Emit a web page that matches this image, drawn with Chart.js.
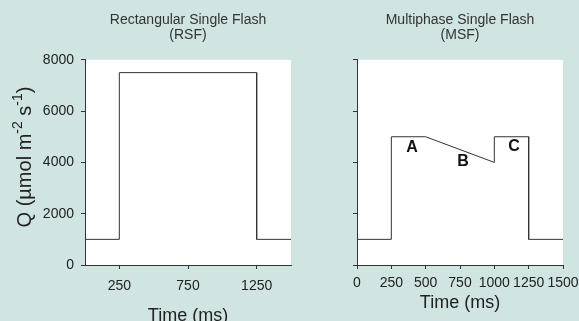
<!DOCTYPE html>
<html lang="en">
<head>
<meta charset="UTF-8">
<title>Single Flash light regimes</title>
<script src="https://cdn.jsdelivr.net/npm/chart.js"></script>
<style>
  html, body { margin: 0; padding: 0; width: 579px; height: 321px; overflow: hidden; background: #d0e5e1; }
  #rsf { position: absolute; left: 0; top: 0; }
  #msf { position: absolute; left: 300px; top: 0; }
</style>
</head>
<body>
<canvas id="rsf" width="300" height="330"></canvas>
<canvas id="msf" width="279" height="321"></canvas>
<script>
// Rectangular single flash: time (ms) and photon flux Q
const rsfTime = [0, 250, 250, 1250, 1250, 1500];
const rsfQ = [1000, 1000, 7500, 7500, 1000, 1000];
// Multiphase single flash
const msfTime = [0, 250, 250, 500, 1000, 1000, 1250, 1250, 1500];
const msfQ = [1000, 1000, 5000, 5000, 4000, 5000, 5000, 1000, 1000];

const rsfTimeTicks = [250, 750, 1250];
const msfTimeTicks = [0, 250, 500, 750, 1000, 1250, 1500];
const qTicks = [0, 2000, 4000, 6000, 8000];

// phase labels inside the MSF panel
const phaseLabels = ['A', 'B', 'C'];
const phaseTime = [400, 772, 1143];
const phaseQ = [4560, 4020, 4610];

// y axis title, pieces flagged true are superscripts
const qTitle = ['Q (µmol m', '-2', ' s', '-1', ')'];
const qTitleSup = [false, true, false, true, false];

const family = '"Liberation Sans", Arial, sans-serif';
const ink = '#333';

const plotBg = {
  id: 'plotBg',
  beforeDraw(chart) {
    const { ctx, chartArea: a } = chart;
    ctx.save();
    ctx.fillStyle = '#fff';
    ctx.fillRect(a.left, a.top, a.right - a.left, a.bottom - a.top);
    ctx.restore();
  }
};

const phaseText = {
  id: 'phaseText',
  afterDatasetsDraw(chart) {
    const { ctx, scales } = chart;
    ctx.save();
    ctx.font = 'bold 16px ' + family;
    ctx.fillStyle = '#111';
    ctx.textAlign = 'center';
    ctx.textBaseline = 'middle';
    phaseLabels.forEach((t, i) => {
      ctx.fillText(t, scales.x.getPixelForValue(phaseTime[i]), scales.y.getPixelForValue(phaseQ[i]));
    });
    ctx.restore();
  }
};

// rotated y title with real superscripts
const qAxisTitle = {
  id: 'qAxisTitle',
  afterDraw(chart) {
    const { ctx } = chart;
    const mainFont = '20px ' + family;
    const supFont = '14px ' + family;
    ctx.save();
    let total = 0;
    qTitle.forEach((t, i) => {
      ctx.font = qTitleSup[i] ? supFont : mainFont;
      total += ctx.measureText(t).width;
    });
    ctx.translate(0, 157);
    ctx.rotate(-Math.PI / 2);
    ctx.fillStyle = '#222';
    ctx.textBaseline = 'alphabetic';
    ctx.textAlign = 'left';
    let x = -total / 2;
    qTitle.forEach((t, i) => {
      ctx.font = qTitleSup[i] ? supFont : mainFont;
      ctx.fillText(t, x, qTitleSup[i] ? 22 : 31);
      x += ctx.measureText(t).width;
    });
    ctx.restore();
  }
};

function points(xs, ys) {
  return xs.map((x, i) => ({ x: x, y: ys[i] }));
}

function makeChart(id, opts) {
  return new Chart(document.getElementById(id), {
    type: 'line',
    data: {
      datasets: [{
        data: points(opts.xs, opts.ys),
        borderColor: ink,
        borderWidth: 1,
        pointRadius: 0,
        tension: 0,
        fill: false
      }]
    },
    options: {
      responsive: false,
      animation: false,
      layout: { padding: { left: 0, right: opts.right, top: 0, bottom: 0 } },
      plugins: {
        legend: { display: false },
        tooltip: { enabled: false },
        title: {
          display: true,
          text: opts.title,
          color: ink,
          fullSize: false,
          font: { family: family, size: 14, weight: 'normal', lineHeight: 1.1 },
          padding: { top: 12, bottom: 17 }
        }
      },
      scales: {
        x: {
          type: 'linear',
          min: 0,
          max: 1500,
          afterBuildTicks: s => { s.ticks = opts.xTicks.map(v => ({ value: v })); },
          afterFit: s => {
            s.height = opts.xHeight;
            s.paddingLeft = 0;
            s.paddingRight = 0;
          },
          grid: { drawOnChartArea: false, tickLength: 4, color: ink },
          border: { color: ink, width: 1 },
          ticks: {
            color: '#222', font: { family: family, size: 14 }, padding: opts.xTickPad,
            autoSkip: false, maxRotation: 0, minRotation: 0,
            callback: v => String(v)
          },
          title: { display: true, text: 'Time (ms)', color: '#222', font: { family: family, size: 18 }, padding: { top: 0, bottom: opts.xTitlePad } }
        },
        y: {
          type: 'linear',
          min: 0,
          max: 8000,
          afterBuildTicks: s => { s.ticks = qTicks.map(v => ({ value: v })); },
          afterFit: s => {
            s.width = opts.yWidth;
            s.paddingTop = 0;
            s.paddingBottom = 0;
          },
          grid: { drawOnChartArea: false, tickLength: 4, color: ink },
          border: { color: ink, width: 1 },
          ticks: { display: opts.yLabels, color: '#222', font: { family: family, size: 14 }, padding: 7, callback: v => String(v) }
        }
      }
    },
    plugins: opts.plugins
  });
}

makeChart('rsf', {
  xs: rsfTime, ys: rsfQ,
  title: ['Rectangular Single Flash', '(RSF)'],
  xTicks: rsfTimeTicks,
  right: 9, yWidth: 85, xHeight: 65, xTickPad: 9, xTitlePad: 3, yLabels: true,
  plugins: [plotBg, qAxisTitle]
});

makeChart('msf', {
  xs: msfTime, ys: msfQ,
  title: ['Multiphase Single Flash', '(MSF)'],
  xTicks: msfTimeTicks,
  right: 16, yWidth: 57, xHeight: 56, xTickPad: 6, xTitlePad: 7, yLabels: false,
  plugins: [plotBg, phaseText]
});
</script>
</body>
</html>
